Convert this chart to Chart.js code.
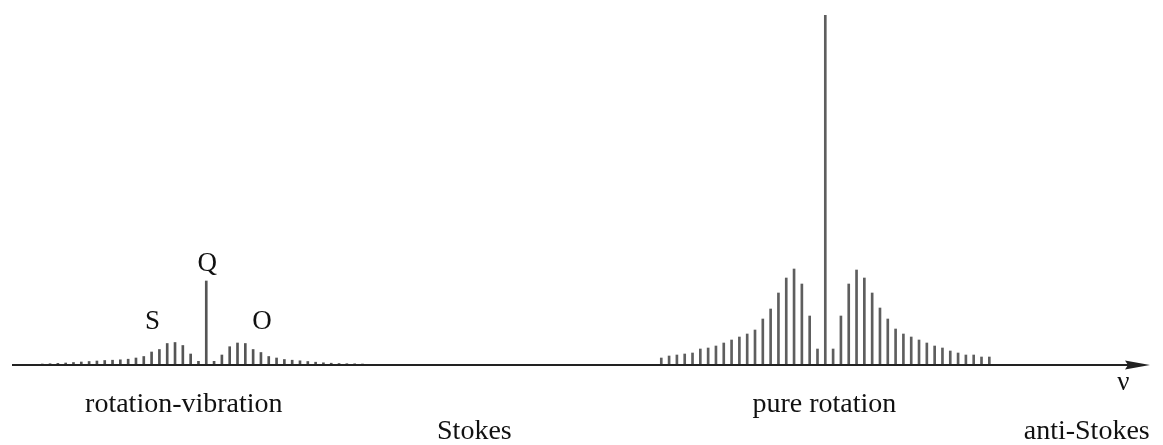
<!DOCTYPE html>
<html>
<head>
<meta charset="utf-8">
<script src="https://cdn.jsdelivr.net/npm/chart.js@4/dist/chart.umd.min.js"></script>
<style>
  html, body { margin: 0; padding: 0; background: #fff; }
  #wrap { width: 1163px; height: 445px; position: relative; }
</style>
</head>
<body>
<div id="wrap"><canvas id="c"></canvas></div>
<script>
// Line positions in units of line spacing (Q branch at 0)
const rotVibX = [-21,-20,-19,-18,-17,-16,-15,-14,-13,-12,-11,-10,-9,-8,-7,-6,-5,-4,-3,-2,-1,
                 0,
                 1,2,3,4,5,6,7,8,9,10,11,12,13,14,15,16,17,18,19,20];
// Intensities (relative)
const rotVibY = [1,1.3,1.7,2,2.5,3,3.5,4,4.5,4.8,5.2,5.8,7,8.5,13,15.5,21.5,22.5,19.5,11,3.7,
                 84,
                 3.7,10,18.3,22,21.5,15.5,12.5,8.5,7,5.5,4.8,4.2,3.5,2.8,2.2,1.8,1.5,1.3,1.2,1];

const pureRotX = [58,59,60,61,62,63,64,65,66,67,68,69,70,71,72,73,74,75,76,77,78,
                  79,
                  80,81,82,83,84,85,86,87,88,89,90,91,92,93,94,95,96,97,98,99,100];
const pureRotY = [7,9,10,11,12,16,17,19,22,25,28,31,35,46,56,72,87,96,81,49,16,
                  350,
                  16,49,81,95,87,72,57,46,36,31,28,25,22,19,17,14,12,10,10,8,8];

const xMin = -25, xMax = 120.7;
const yMax = 350;

const textLabels = [
  { text: 'Q', x: 0, yPx: 264 },
  { text: 'S', x: -7, yPx: 322 },
  { text: 'O', x: 7, yPx: 322 },
  { text: 'rotation-vibration', x: -3, yPx: 405 },
  { text: 'pure rotation', x: 79, yPx: 405 },
  { text: 'Stokes', x: 34.2, yPx: 432 },
  { text: 'anti-Stokes', x: 112.6, yPx: 432 },
  { text: 'ν', x: 117.3, yPx: 383 }
];

const toPts = (xs, ys) => xs.map((x, i) => ({ x: x, y: ys[i] }));

const decor = {
  id: 'decor',
  afterDatasetsDraw(chart) {
    const ctx = chart.ctx;
    const xs = chart.scales.x, ys = chart.scales.y;
    const y0 = ys.getPixelForValue(0);
    const xl = chart.chartArea.left, xr = chart.chartArea.right;
    ctx.save();
    // baseline (frequency axis)
    ctx.strokeStyle = '#222';
    ctx.lineWidth = 2;
    ctx.beginPath();
    ctx.moveTo(xl, y0);
    ctx.lineTo(xr - 10, y0);
    ctx.stroke();
    // arrowhead
    ctx.fillStyle = '#222';
    ctx.beginPath();
    ctx.moveTo(xr, y0);
    ctx.lineTo(xr - 25, y0 - 4.5);
    ctx.lineTo(xr - 22, y0);
    ctx.lineTo(xr - 25, y0 + 4.5);
    ctx.closePath();
    ctx.fill();
    // labels
    ctx.fillStyle = '#111';
    ctx.textAlign = 'center';
    ctx.textBaseline = 'middle';
    textLabels.forEach(l => {
      ctx.font = (l.text.length === 1 ? '27px' : '28px') + ' "Liberation Serif", "DejaVu Serif", serif';
      ctx.fillText(l.text, xs.getPixelForValue(l.x), l.yPx);
    });
    ctx.restore();
  }
};

new Chart(document.getElementById('c'), {
  type: 'bar',
  data: {
    datasets: [
      { data: toPts(rotVibX, rotVibY), backgroundColor: '#555', barThickness: 2 },
      { data: toPts(pureRotX, pureRotY), backgroundColor: '#5e5e5e', barThickness: 2 }
    ]
  },
  options: {
    responsive: true,
    maintainAspectRatio: false,
    animation: false,
    layout: { padding: { left: 12, right: 13, top: 15, bottom: 80 } },
    plugins: { legend: { display: false }, tooltip: { enabled: false } },
    scales: {
      x: { type: 'linear', min: xMin, max: xMax, display: false, offset: false },
      y: { min: 0, max: yMax, display: false }
    }
  },
  plugins: [decor]
});
</script>
</body>
</html>
